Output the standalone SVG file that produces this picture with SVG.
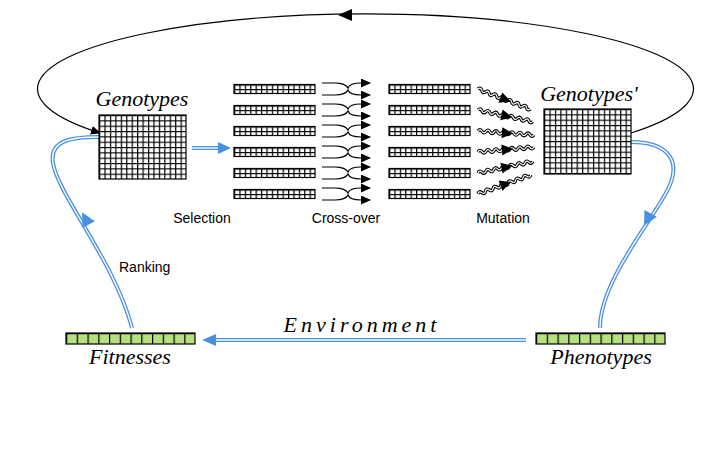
<svg xmlns="http://www.w3.org/2000/svg" width="705" height="461" viewBox="0 0 705 461">
<style>
.lbl{font-family:"Liberation Serif",serif;font-style:italic;font-size:22px;fill:#000}
.sm{font-family:"Liberation Sans",Arial,sans-serif;font-size:14px;fill:#000}
.bo{fill:none;stroke:#4a90e2;stroke-width:4}
.bi{fill:none;stroke:#fff;stroke-width:1.4}
.bh{fill:#4a90e2}
.blk{fill:none;stroke:#000;stroke-width:1.2}
.wo{fill:none;stroke:#000;stroke-width:3.4}
.wi{fill:none;stroke:#fff;stroke-width:1.2}
.frame{fill:none;stroke:#000;stroke-width:1.2}
</style>
<defs>
<pattern id="pg" width="5.4375" height="5.3333" patternUnits="userSpaceOnUse"><path d="M0,0V6M0,0H6" stroke="#000" stroke-width="2.4"/></pattern>
<pattern id="ps" width="5.4" height="4.5" patternUnits="userSpaceOnUse"><path d="M0,0V5M0,0H6" stroke="#000" stroke-width="2.4"/></pattern>
<pattern id="pb" width="10.75" height="11" patternUnits="userSpaceOnUse"><path d="M0,0V11M0,0H11" stroke="#000" stroke-width="2.4"/></pattern>
<marker id="ah" markerWidth="12" markerHeight="10" refX="9" refY="4.5" orient="auto" markerUnits="userSpaceOnUse"><path d="M0,0L10,4.5L0,9Z" fill="#000"/></marker>
<g id="strip"><rect width="81" height="9" fill="#fff"/><rect width="81" height="9" fill="url(#ps)"/><rect width="81" height="9" class="frame"/></g>
<g id="xo"><path d="M322,-6 H335 C343,-6 347,-3 348,-1 C349,-4 353,-6 361,-6 H370" class="blk" marker-end="url(#ah)"/><path d="M322,6 H335 C343,6 347,3 348,1 C349,4 353,6 361,6 H370" class="blk" marker-end="url(#ah)"/></g>
<g id="wave"><path d="M0,0 q2,-3 4,0 t4,0 t4,0 t4,0 t4,0 t4,0 t4,0 t4,0 t4,0 t4,0 t4,0 t4,0 t4,0 t4,0" class="wo"/><path d="M0,0 q2,-3 4,0 t4,0 t4,0 t4,0 t4,0 t4,0 t4,0 t4,0 t4,0 t4,0 t4,0 t4,0 t4,0 t4,0" class="wi"/><path d="M24,-5.5 L35,0 L24,5.5Z" fill="#000"/></g>
</defs>

<g id="connectors">
<path id="loop" d="M631,133 A328 75 0 1 0 100,133" class="blk" marker-end="url(#ah)"/>
<path d="M338,15 L352,9 L352,21Z" fill="#000"/>
<g id="selection-arrow"><path d="M192,148 H220" class="bo"/><path d="M192,148 H220" class="bi"/><path d="M231,148 L218,142 L218,154Z" class="bh"/></g>
<g id="ranking"><path d="M132,328 C115,262 58,195 53,163 C49,140 72,137 99,137" class="bo"/><path d="M132,328 C115,262 58,195 53,163 C49,140 72,137 99,137" class="bi"/><path d="M2,0 L-12,-7 L-12,7Z" class="bh" transform="translate(83,214) rotate(-118)"/></g>
<g id="to-phen"><path d="M631,142 C665,142 682,158 669,187 C655,218 600,280 600,328" class="bo"/><path d="M631,142 C665,142 682,158 669,187 C655,218 600,280 600,328" class="bi"/><path d="M2,0 L-12,-7 L-12,7Z" class="bh" transform="translate(645,224) rotate(118)"/></g>
<g id="environment"><path d="M526,340 H212" class="bo"/><path d="M526,340 H212" class="bi"/><path d="M202,340 L216,334 L216,346Z" class="bh"/></g>
<g id="crossovers">
<use href="#xo" y="89"/><use href="#xo" y="110"/><use href="#xo" y="131"/><use href="#xo" y="152"/><use href="#xo" y="173"/><use href="#xo" y="194"/>
</g>
<g id="mutations">
<use href="#wave" transform="translate(478,89) rotate(21)"/>
<use href="#wave" transform="translate(478,110) rotate(12)"/>
<use href="#wave" transform="translate(478,131) rotate(4)"/>
<use href="#wave" transform="translate(478,152) rotate(-5)"/>
<use href="#wave" transform="translate(478,173) rotate(-12)"/>
<use href="#wave" transform="translate(478,194) rotate(-20)"/>
</g>
</g>

<g id="genotypes">
<g transform="translate(99,115)"><rect width="87" height="64" fill="#fff"/><rect width="87" height="64" fill="url(#pg)"/><rect width="87" height="64" class="frame"/></g>
<text class="lbl" x="142" y="106" text-anchor="middle">Genotypes</text>
</g>

<g id="selected">
<use href="#strip" x="234" y="84.5"/><use href="#strip" x="234" y="105.5"/><use href="#strip" x="234" y="126.5"/><use href="#strip" x="234" y="147.5"/><use href="#strip" x="234" y="168.5"/><use href="#strip" x="234" y="189.5"/>
</g>
<g id="crossed">
<use href="#strip" x="389" y="84.5"/><use href="#strip" x="389" y="105.5"/><use href="#strip" x="389" y="126.5"/><use href="#strip" x="389" y="147.5"/><use href="#strip" x="389" y="168.5"/><use href="#strip" x="389" y="189.5"/>
</g>

<g id="genotypes2">
<g transform="translate(544,109)"><rect width="87" height="65" fill="#fff"/><rect width="87" height="65" fill="url(#pg)"/><rect width="87" height="65" class="frame"/></g>
<text class="lbl" x="589" y="101" text-anchor="middle">Genotypes'</text>
</g>

<g id="fitnesses">
<g transform="translate(66,333)"><rect width="129" height="11" fill="#b5e07f"/><rect width="129" height="11" fill="url(#pb)"/><rect width="129" height="11" class="frame"/></g>
<text class="lbl" x="130" y="364" text-anchor="middle">Fitnesses</text>
</g>

<g id="phenotypes">
<g transform="translate(536,333)"><rect width="129" height="11" fill="#b5e07f"/><rect width="129" height="11" fill="url(#pb)"/><rect width="129" height="11" class="frame"/></g>
<text class="lbl" x="601" y="364" text-anchor="middle">Phenotypes</text>
</g>

<g id="labels">
<text class="lbl" x="362" y="332" text-anchor="middle" letter-spacing="4" font-size="19">Environment</text>
<text class="sm" x="202" y="223" text-anchor="middle">Selection</text>
<text class="sm" x="346" y="223" text-anchor="middle">Cross-over</text>
<text class="sm" x="503" y="223" text-anchor="middle">Mutation</text>
<text class="sm" x="119" y="272">Ranking</text>
</g>
</svg>
